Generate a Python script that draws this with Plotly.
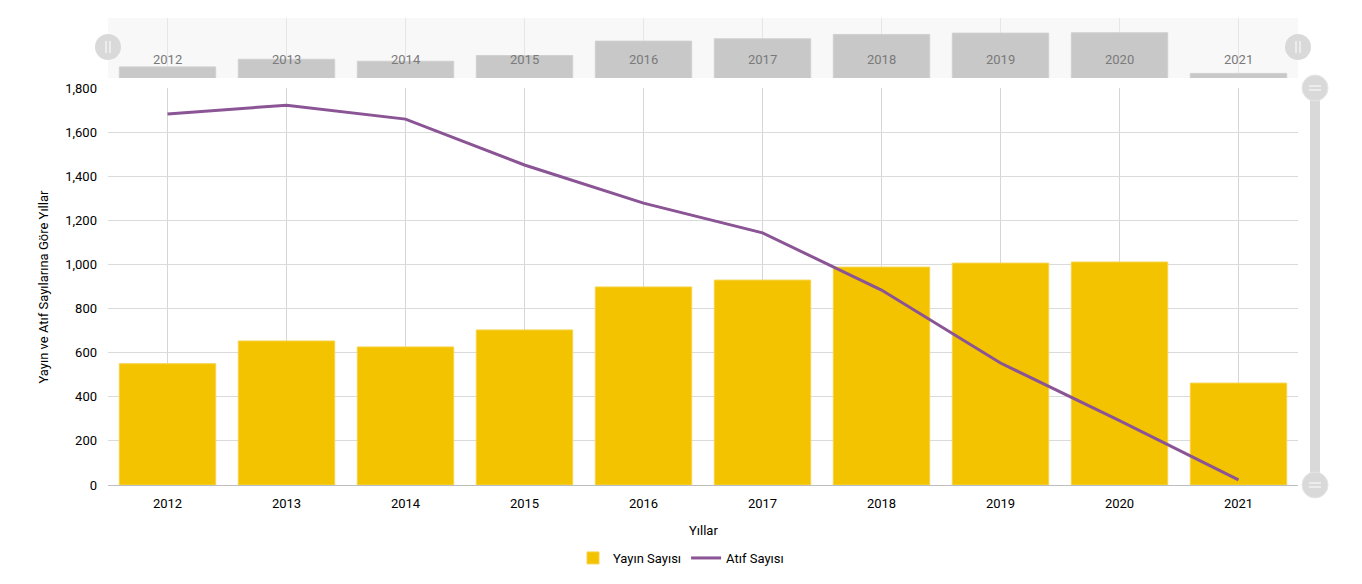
import plotly.graph_objects as go

years = ["2012", "2013", "2014", "2015", "2016", "2017", "2018", "2019", "2020", "2021"]
yayin = [550, 653, 626, 703, 898, 929, 988, 1006, 1011, 462]
atif = [1682, 1722, 1659, 1451, 1278, 1143, 884, 553, 292, 23]
yticks = [0, 200, 400, 600, 800, 1000, 1200, 1400, 1600, 1800]

W, H = 1362, 584
def fx(px):
    return px / W
def fy(py):
    return (H - py) / H

XL, XR = 108, 1298
YT, YB = 88, 485
ST, SB = 18, 78

BAR = "#F3C300"
LINE = "#8A5495"
FONT = "Roboto, Arial, sans-serif"

fig = go.Figure()
fig.add_trace(go.Bar(x=years, y=yayin, name="Yayın Sayısı", marker=dict(color=BAR, line=dict(color="#F7D34A", width=1)),
                     width=0.81, xaxis="x", yaxis="y", hoverinfo="x+y"))
fig.add_trace(go.Scatter(x=years, y=atif, name="Atıf Sayısı", mode="lines", line=dict(color=LINE, width=3),
                         xaxis="x", yaxis="y"))
# scrollbar preview
fig.add_trace(go.Bar(x=years, y=yayin, showlegend=False, marker=dict(color="#C8C8C8", line=dict(color="#D0D0D0", width=1)),
                     width=0.81, xaxis="x2", yaxis="y2", hoverinfo="skip"))

shapes = [
    dict(type="rect", xref="paper", yref="paper", x0=fx(XL), x1=fx(XR), y0=fy(SB), y1=fy(ST),
         fillcolor="#F8F8F8", line=dict(width=0), layer="below"),
]
# top scrollbar handles
for cx in (XL, XR):
    cy = 47
    r = 13
    shapes.append(dict(type="circle", xref="paper", yref="paper", x0=fx(cx - r), x1=fx(cx + r), y0=fy(cy + r), y1=fy(cy - r),
                       fillcolor="#D9D9D9", line=dict(width=0)))
    for dx in (-2, 2):
        shapes.append(dict(type="line", xref="paper", yref="paper", x0=fx(cx + dx), x1=fx(cx + dx), y0=fy(cy + 6), y1=fy(cy - 6),
                           line=dict(color="#FFFFFF", width=1)))
# right vertical scrollbar
VX = 1315
shapes.append(dict(type="rect", xref="paper", yref="paper", x0=fx(VX - 5), x1=fx(VX + 5), y0=fy(YB), y1=fy(YT),
                   fillcolor="#D9D9D9", line=dict(width=0)))
for cy in (YT, YB):
    r = 13
    shapes.append(dict(type="circle", xref="paper", yref="paper", x0=fx(VX - r), x1=fx(VX + r), y0=fy(cy + r), y1=fy(cy - r),
                       fillcolor="#D9D9D9", line=dict(color="#E6E6E6", width=1)))
    for dy in (-2, 2):
        shapes.append(dict(type="line", xref="paper", yref="paper", x0=fx(VX - 6), x1=fx(VX + 6), y0=fy(cy + dy), y1=fy(cy + dy),
                           line=dict(color="#FFFFFF", width=1)))

annotations = [
    dict(text="Yayın ve Atıf Sayılarına Göre Yıllar", xref="paper", yref="paper", x=fx(43), y=fy((YT + YB) / 2),
         textangle=-90, showarrow=False, font=dict(family=FONT, size=13, color="#000000"), xanchor="center", yanchor="middle"),
    dict(text="Yıllar", xref="paper", yref="paper", x=fx((XL + XR) / 2), y=fy(530), showarrow=False,
         font=dict(family=FONT, size=13, color="#000000"), xanchor="center", yanchor="middle"),
]
for i, yr in enumerate(years):
    annotations.append(dict(text=yr, xref="x2", yref="paper", x=i, y=fy(59), showarrow=False,
                            font=dict(family=FONT, size=13, color="#7A7A7A"), xanchor="center", yanchor="middle"))

fig.update_layout(
    width=W, height=H,
    margin=dict(l=0, r=0, t=0, b=0, autoexpand=False),
    paper_bgcolor="#FFFFFF", plot_bgcolor="rgba(0,0,0,0)",
    font=dict(family=FONT, size=13, color="#000000"),
    barmode="overlay",
    xaxis=dict(domain=[fx(XL), fx(XR)], anchor="y", type="category", showgrid=True, gridcolor="#D6D6D6",
               showline=True, linecolor="#BDBDBD", ticks="", tickfont=dict(size=13), ticklabelstandoff=6,
               automargin=False, range=[-0.5, len(years) - 0.5]),
    yaxis=dict(domain=[fy(YB), fy(YT)], anchor="x", range=[0, 1800], tickvals=yticks, tickformat=",d",
               showgrid=True, gridcolor="#DADADA", zeroline=False, showline=False, ticks="", tickfont=dict(size=13),
               ticklabelstandoff=10, automargin=False),
    xaxis2=dict(domain=[fx(XL), fx(XR)], anchor="y2", type="category", showgrid=True, gridcolor="#E6E6E6",
                showticklabels=False, ticks="", showline=False, fixedrange=True, automargin=False,
                range=[-0.5, len(years) - 0.5]),
    yaxis2=dict(domain=[fy(SB), fy(ST)], anchor="x2", range=[400, 1210], showgrid=False, showticklabels=False,
                zeroline=False, ticks="", fixedrange=True, automargin=False),
    legend=dict(orientation="h", x=0.5, xanchor="center", y=fy(558), yanchor="middle",
                font=dict(family=FONT, size=13, color="#000000"), itemwidth=30, traceorder="normal"),
    shapes=shapes,
    annotations=annotations,
)

fig.write_html("out.html", config={"displayModeBar": False},
               post_script="document.body.style.margin='0';document.body.style.overflow='hidden';")
